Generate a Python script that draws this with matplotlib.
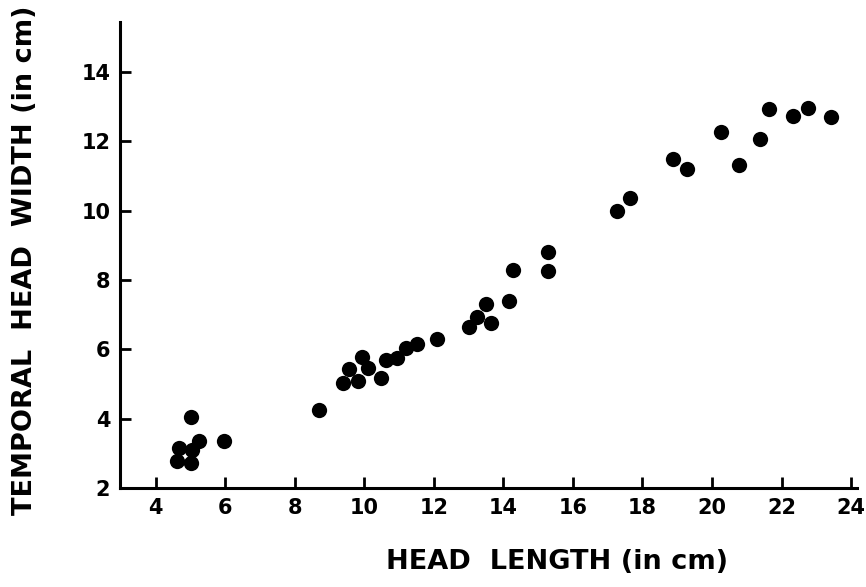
"""
Scatter of temporal head width against head length (both in cm).
"""

import matplotlib
matplotlib.use("Agg")
import matplotlib.pyplot as plt

# head length (cm)
head_length = [
    5.02, 4.67, 5.25, 5.05, 4.61, 5.02, 5.97, 8.70,
    9.39, 9.56, 9.82, 9.94, 10.11, 10.48, 10.63, 10.94, 11.20, 11.52,
    12.09, 13.01, 13.24, 13.50, 13.65, 14.17, 14.28, 15.29, 15.29,
    17.27, 17.64, 18.88, 19.28, 20.26, 20.78, 21.38, 21.64, 22.33,
    22.76, 23.42,
]
# temporal head width (cm)
head_width = [
    4.05, 3.15, 3.35, 3.10, 2.78, 2.72, 3.35, 4.25,
    5.03, 5.43, 5.08, 5.78, 5.46, 5.17, 5.69, 5.75, 6.03, 6.15,
    6.29, 6.64, 6.93, 7.30, 6.76, 7.39, 8.28, 8.80, 8.25,
    9.98, 10.36, 11.48, 11.19, 12.26, 11.31, 12.06, 12.92, 12.72,
    12.95, 12.69,
]

x_ticks = [4, 6, 8, 10, 12, 14, 16, 18, 20, 22, 24]
y_ticks = [2, 4, 6, 8, 10, 12, 14]

plt.rcParams["font.family"] = ["DejaVu Sans"]

fig = plt.figure(figsize=(8.66, 5.87), dpi=100)
ax = fig.add_axes([0.1386, 0.1687, 0.851, 0.794])

ax.plot(head_length, head_width, "o", color="black", markersize=11,
        markeredgewidth=0, clip_on=False)

ax.set_xlim(2.98, 24.17)
ax.set_ylim(2, 15.44)
ax.set_xticks(x_ticks)
ax.set_yticks(y_ticks)

for side in ["top", "right"]:
    ax.spines[side].set_visible(False)
for side in ["left", "bottom"]:
    ax.spines[side].set_linewidth(2.2)

ax.tick_params(direction="in", length=8, width=2, labelsize=15, pad=7)
for lbl in ax.get_xticklabels() + ax.get_yticklabels():
    lbl.set_fontweight("bold")

# axis titles placed where they sit in the original
fig.text(0.643, 0.043, "HEAD  LENGTH (in cm)", fontsize=19.5,
         fontweight="bold", ha="center", va="center")
fig.text(0.029, 0.557, "TEMPORAL  HEAD  WIDTH (in cm)", fontsize=19.5,
         fontweight="bold", ha="center", va="center", rotation=90)

fig.savefig("out.png", dpi=100)
